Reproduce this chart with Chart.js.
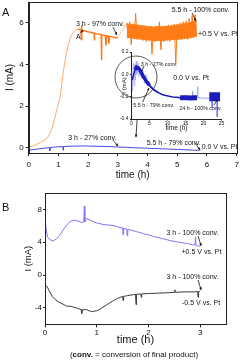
<!DOCTYPE html>
<html>
<head>
<meta charset="utf-8">
<script src="https://cdn.jsdelivr.net/npm/chart.js@4.4.1/dist/chart.umd.min.js"></script>
<style>
  html, body { margin: 0; padding: 0; background: #fff; }
  #wrap { position: relative; width: 240px; height: 362px; overflow: hidden; }
  canvas { position: absolute; }
</style>
</head>
<body>
<div id="wrap">
  <canvas id="chartA" width="240" height="185" style="left:0;top:0;width:240px;height:185px"></canvas>
  <canvas id="chartInset" width="120" height="100" style="left:110px;top:40px;width:120px;height:100px"></canvas>
  <canvas id="chartB" width="240" height="177" style="left:0;top:185px;width:240px;height:177px"></canvas>
</div>
<script>
// ---- panel A, +0.5 V (orange) ----
var riseT = [0, 0.2, 0.4, 0.55, 0.65, 0.72, 0.8, 0.88, 0.95, 1.0, 1.05, 1.1, 1.17, 1.25, 1.33, 1.42, 1.5, 1.58, 1.65];
var riseI = [0.03, 0.12, 0.25, 0.38, 0.52, 0.7, 1.0, 1.45, 1.85, 2.15, 2.4, 2.9, 3.7, 4.4, 4.95, 5.35, 5.55, 5.65, 5.7];
var plateauT = [1.65, 1.72, 1.76, 1.77, 1.78, 1.79, 1.85, 1.92, 2.0, 2.08, 2.15, 2.2, 2.21, 2.22, 2.3, 2.38, 2.44, 2.45, 2.46, 2.52, 2.58, 2.6, 2.62, 2.68, 2.7, 2.72, 2.8, 2.88, 2.95, 3.0];
var plateauI = [5.7, 5.68, 5.66, 5.2, 5.9, 5.64, 5.62, 5.6, 5.57, 5.55, 5.52, 5.5, 5.15, 5.5, 5.47, 5.45, 5.43, 4.2, 5.42, 5.4, 5.38, 4.9, 5.37, 5.36, 5.0, 5.35, 5.33, 5.3, 5.28, 5.3];
var gapT = [3.0, 3.3];
var gapI = [5.3, 5.95];
var bandT = [3.30, 3.35, 3.40, 3.45, 3.50, 3.55, 3.60, 3.65, 3.70, 3.75, 3.80, 3.85, 3.90, 3.95, 4.00, 4.05,
             4.10, 4.15, 4.20, 4.25, 4.30, 4.35, 4.40, 4.45, 4.50, 4.55, 4.60, 4.65, 4.70, 4.75, 4.80, 4.85,
             4.90, 4.95, 5.00, 5.05, 5.10, 5.15, 5.20, 5.25, 5.30, 5.35, 5.40, 5.45, 5.50, 5.55, 5.60, 5.65];
var bandI = [6.00, 5.30, 6.05, 4.95, 5.95, 5.25, 6.45, 5.20, 5.90, 5.20, 5.85, 5.15, 5.85, 5.10, 5.80, 5.15,
             5.85, 4.50, 5.80, 5.10, 5.85, 5.15, 6.05, 4.70, 5.80, 5.10, 5.85, 5.15, 5.90, 5.10, 5.90, 5.20,
             5.95, 4.05, 5.95, 5.20, 6.00, 5.20, 6.05, 5.25, 6.10, 5.20, 6.20, 5.25, 6.35, 5.30, 6.40, 5.35];
// upper and lower edge of the dense noise band
var envT = [3.3, 3.6, 3.9, 4.2, 4.5, 4.8, 5.1, 5.4, 5.65];
var envTopI = [5.95, 5.9, 5.85, 5.8, 5.82, 5.85, 5.92, 6.0, 6.1];
var envBotI = [5.3, 5.25, 5.2, 5.15, 5.15, 5.2, 5.22, 5.28, 5.35];

// ---- panel A, 0.0 V (blue) ----
var blueT = [0, 0.3, 0.6, 0.7, 0.71, 0.72, 0.9, 1.15, 1.16, 1.17, 1.5, 1.8, 2.1, 2.4, 2.7, 3.0, 3.3, 3.6, 4.0, 4.5, 5.0, 5.5, 5.75];
var blueI = [-0.12, -0.06, -0.01, 0.01, -0.15, 0.01, 0.04, 0.06, -0.12, 0.06, 0.08, 0.09, 0.08, 0.07, 0.06, 0.04, 0.02, 0.0, -0.02, -0.05, -0.08, -0.11, -0.13];

// ---- inset, 0.0 V over 25 h ----
var insetT = [0, 0.3, 0.6, 1.0, 1.4, 1.8, 2.3, 2.8, 3.3, 3.8, 4.3, 5.0, 5.6, 6.5, 7.5, 8.5, 9.5, 10.5, 11.5, 12.5, 13.5, 14.5, 15.5, 16.5, 17.5, 18.2];
var insetI = [-0.05, -0.04, 0.0, 0.04, 0.065, 0.06, 0.04, 0.01, -0.02, -0.045, -0.07, -0.1, -0.12, -0.145, -0.165, -0.18, -0.19, -0.197, -0.202, -0.206, -0.21, -0.21, -0.21, -0.212, -0.21, -0.21];
var noiseT = [0.1, 0.3, 0.5, 0.7, 0.9, 1.1, 1.3, 1.5, 1.8, 2.1, 2.4, 2.8, 3.2, 3.6, 4.0, 4.5, 5.0];
var noiseI = [0.02, -0.15, 0.1, -0.1, 0.09, -0.05, 0.12, 0.0, 0.1, -0.02, 0.07, -0.04, 0.03, -0.08, 0.0, -0.1, -0.06];
var tailT = [18.2, 21.6];
var tailI = [-0.21, -0.215];
var blockT = [21.6, 24.6];
var blockI = [-0.2, -0.2];
var spikeT = [17.0, 17.0, 17.0, 18.4, 18.4, 18.4, 22.4, 22.4, 22.4, 23.8, 23.8];
var spikeI = [-0.21, -0.15, null, -0.21, -0.11, null, -0.2, -0.3, null, -0.2, -0.38];

// ---- panel B ----
var plusT = [0, 0.005, 0.02, 0.05, 0.1, 0.16, 0.22, 0.28, 0.35, 0.42, 0.48, 0.55, 0.62, 0.68, 0.72, 0.75, 0.76, 0.77, 0.8, 0.9,
             1.0, 1.1, 1.2, 1.32, 1.45, 1.5, 1.51, 1.52, 1.58, 1.59, 1.6, 1.65, 1.77, 1.9, 2.0, 2.1, 2.2, 2.3, 2.42, 2.55,
             2.65, 2.74, 2.85, 2.9, 2.91, 2.92, 2.96, 3.0];
var plusI = [-0.5, 7.0, 5.6, 4.6, 4.3, 4.15, 4.4, 4.8, 5.5, 6.1, 6.5, 6.7, 6.6, 6.5, 6.4, 6.45, 8.4, 6.5, 6.9, 6.6,
             6.35, 6.2, 6.1, 6.05, 5.8, 5.75, 4.9, 5.7, 5.6, 4.8, 5.55, 5.5, 5.3, 5.05, 4.9, 4.7, 4.55, 4.4, 4.2, 4.05,
             3.95, 3.85, 3.7, 3.65, 4.6, 3.65, 3.55, 3.5];
var minusT = [0, 0.04, 0.08, 0.14, 0.2, 0.27, 0.35, 0.42, 0.5, 0.55, 0.6, 0.65, 0.7, 0.71, 0.72, 0.8, 0.85, 0.9, 0.95, 1.0,
              1.05, 1.1, 1.2, 1.3, 1.4, 1.5, 1.51, 1.52, 1.6, 1.7, 1.75, 1.76, 1.77, 1.85, 1.86, 1.87, 2.0, 2.2, 2.4, 2.5,
              2.51, 2.52, 2.7, 2.9, 2.95, 2.96, 2.97, 3.0];
var minusI = [-1.3, -1.4, -1.9, -2.6, -3.0, -3.3, -3.55, -3.8, -3.8, -3.9, -4.0, -4.1, -4.2, -4.7, -4.25, -4.2, -4.35, -4.45, -4.4, -4.35,
              -4.2, -4.0, -3.6, -3.2, -2.85, -2.6, -3.1, -2.6, -2.5, -2.4, -2.35, -3.6, -2.35, -2.3, -2.7, -2.3, -2.25, -2.2, -2.15, -2.1,
              -1.8, -2.1, -2.05, -2.05, -2.0, -2.7, -2.0, -1.95];

// ---- ticks ----
var aTicksX = [0, 1, 2, 3, 4, 5, 6, 7];
var aTicksY = [0, 2, 4, 6];
var insetTicksX = [0, 5, 10, 15, 20, 25];
var insetTicksY = [0.2, 0, -0.2, -0.4];
var bTicksX = [0, 1, 2, 3];
var bTicksY = [-4, 0, 4, 8];

var FONT = "'Liberation Sans', Arial, sans-serif";
Chart.defaults.font.family = FONT;
Chart.defaults.color = '#111';

function pts(ts, vs) {
  return ts.map(function (t, i) { return { x: t, y: vs[i] }; });
}

function line(data, color, width, extra) {
  var ds = { data: data, borderColor: color, borderWidth: width, pointRadius: 0, tension: 0, fill: false, spanGaps: false };
  if (extra) Object.keys(extra).forEach(function (k) { ds[k] = extra[k]; });
  return ds;
}

function scale(o) {
  return {
    type: 'linear', min: o.min, max: o.max,
    afterBuildTicks: function (s) { s.ticks = o.ticks.map(function (v) { return { value: v }; }); },
    afterFit: function (s) {
      if (o.width != null) s.width = o.width;
      if (o.height != null) s.height = o.height;
      s.paddingTop = 0; s.paddingBottom = 0; s.paddingLeft = 0; s.paddingRight = 0;
    },
    grid: { display: true, drawOnChartArea: false, drawTicks: true, tickLength: o.tickLen, color: '#222', lineWidth: 1 },
    border: { display: true, color: '#222', width: 1 },
    ticks: {
      padding: o.pad, font: { size: o.font }, color: '#111', maxRotation: 0, autoSkip: false,
      callback: o.fmt || function (v) { return v; }
    },
    title: o.title ? { display: true, text: o.title, font: { size: o.titleSize }, color: '#111', padding: o.titlePad } : { display: false }
  };
}

function drawArrow(ctx, x1, y1, x2, y2, head) {
  var ang = Math.atan2(y2 - y1, x2 - x1);
  ctx.beginPath(); ctx.moveTo(x1, y1); ctx.lineTo(x2, y2); ctx.stroke();
  ctx.beginPath();
  ctx.moveTo(x2, y2);
  ctx.lineTo(x2 - head * Math.cos(ang - 0.45), y2 - head * Math.sin(ang - 0.45));
  ctx.lineTo(x2 - head * Math.cos(ang + 0.45), y2 - head * Math.sin(ang + 0.45));
  ctx.closePath(); ctx.fill();
}

// frame, circle, arrows and annotations (anchored in data units)
var notesPlugin = {
  id: 'notes',
  afterDatasetsDraw: function (chart, args, opts) {
    var ctx = chart.ctx, xs = chart.scales.x, ys = chart.scales.y, ca = chart.chartArea;
    ctx.save();
    if (opts.frame) {
      ctx.strokeStyle = '#222'; ctx.lineWidth = 1;
      ctx.strokeRect(Math.round(ca.left) + 0.5, Math.round(ca.top) + 0.5,
        Math.round(ca.right - ca.left), Math.round(ca.bottom - ca.top));
    }
    (opts.circles || []).forEach(function (c) {
      ctx.beginPath();
      ctx.arc(xs.getPixelForValue(c.x), ys.getPixelForValue(c.y), c.r, 0, Math.PI * 2);
      ctx.strokeStyle = '#333'; ctx.lineWidth = 0.8; ctx.stroke();
    });
    ctx.strokeStyle = '#111'; ctx.fillStyle = '#111'; ctx.lineWidth = 0.8;
    (opts.arrows || []).forEach(function (a) {
      drawArrow(ctx, xs.getPixelForValue(a[0]), ys.getPixelForValue(a[1]),
        xs.getPixelForValue(a[2]), ys.getPixelForValue(a[3]), a[4] || 3);
    });
    ctx.textBaseline = 'middle'; ctx.textAlign = 'left';
    (opts.texts || []).forEach(function (t) {
      ctx.font = (t.bold ? 'bold ' : '') + t.size + 'px ' + FONT;
      ctx.fillText(t.s, xs.getPixelForValue(t.x), ys.getPixelForValue(t.y));
    });
    (opts.labels || []).forEach(function (t) {
      ctx.font = (t.bold ? 'bold ' : '') + t.size + 'px ' + FONT;
      ctx.fillText(t.s, t.px, t.py);
    });
    if (opts.footnote) {
      var f = opts.footnote, w = 0;
      f.parts.forEach(function (p) {
        ctx.font = (p.bold ? 'bold ' : '') + f.size + 'px ' + FONT;
        w += ctx.measureText(p.s).width;
      });
      var x = f.cx - w / 2;
      f.parts.forEach(function (p) {
        ctx.font = (p.bold ? 'bold ' : '') + f.size + 'px ' + FONT;
        ctx.fillText(p.s, x, f.cy);
        x += ctx.measureText(p.s).width;
      });
    }
    ctx.restore();
  }
};

var common = {
  responsive: false, animation: false, devicePixelRatio: 1,
  events: []
};

function config(datasets, scales, padding, notes) {
  var c = { type: 'line', data: { datasets: datasets }, plugins: [notesPlugin] };
  c.options = Object.assign({}, common, {
    layout: { padding: padding },
    scales: scales,
    plugins: { legend: { display: false }, tooltip: { enabled: false }, notes: notes }
  });
  return c;
}

// ---- panel A ----
new Chart(document.getElementById('chartA'), config([
  line(pts(blueT, blueI), '#4a4ae6', 1),
  line(pts(bandT, bandI), '#ff7a14', 1),
  line(pts(envT, envTopI), '#ff8a2a', 1, { fill: '+1', backgroundColor: '#ff7f1c' }),
  line(pts(envT, envBotI), '#ff8a2a', 1),
  line(pts(plateauT, plateauI), '#ff7a1e', 1.5),
  line(pts(gapT, gapI), '#ffb27e', 0.8),
  line(pts(riseT, riseI), '#ffab74', 1)
], {
  x: scale({ min: 0, max: 7, ticks: aTicksX, font: 8, tickLen: 3, pad: 4, height: 32,
             title: 'time (h)', titleSize: 10, titlePad: { top: 0, bottom: 4 } }),
  y: scale({ min: -0.25, max: 7, ticks: aTicksY, font: 8, tickLen: 3, pad: 2, width: 28.7,
             title: 'I (mA)', titleSize: 10, titlePad: { top: 4, bottom: 0 } })
}, { left: 0, top: 2, right: 3.3, bottom: 0 }, {
  frame: true,
  arrows: [
    [2.84, 5.79, 2.97, 5.41], [1.73, 5.5, 1.83, 5.65, 2.5], [5.5, 6.47, 5.63, 6.07],
    [2.84, 0.37, 3.01, 0.08], [5.6, 0.23, 5.77, -0.11], [3.65, 1.38, 3.61, 0.51]
  ],
  texts: [
    { s: '3 h - 97% conv.', x: 1.59, y: 5.94, size: 7 },
    { s: 'A', x: 1.59, y: 5.31, size: 7 },
    { s: '5.5 h - 100% conv.', x: 4.81, y: 6.61, size: 7 },
    { s: '+0.5 V vs. Pt', x: 5.7, y: 5.46, size: 7 },
    { s: '3 h - 27% conv.', x: 1.33, y: 0.45, size: 7 },
    { s: '5.5 h - 79% conv.', x: 3.97, y: 0.24, size: 7 },
    { s: '0.0 V vs. Pt', x: 5.82, y: 0.02, size: 7 }
  ],
  labels: [{ s: 'A', px: 2, py: 13, size: 11 }]
}));

// ---- inset ----
new Chart(document.getElementById('chartInset'), config([
  line(pts(insetT, insetI), '#1c1cbc', 1.5, {
    segment: {
      borderWidth: function (c) {
        var x = c.p0.parsed.x;
        if (x >= 13) return 5;
        if (x >= 1 && x < 4.5) return 3.5;
        if (x >= 4.5 && x < 7) return 2;
        return 1.5;
      }
    }
  }),
  line(pts(blockT, blockI), '#1c1cbc', 9, { borderCapStyle: 'butt' }),
  line(pts(spikeT, spikeI), '#6a6ae8', 0.8),
  line(pts(tailT, tailI), '#9a9af5', 1),
  line(pts(noiseT, noiseI), '#a9a9ff', 0.8)
], {
  x: scale({ min: 0, max: 25, ticks: insetTicksX, font: 5, tickLen: 1.5, pad: 0.5, height: 21,
             title: 'time (h)', titleSize: 6.5, titlePad: { top: 0, bottom: 7.8 } }),
  y: scale({ min: -0.4, max: 0.2, ticks: insetTicksY, font: 5, tickLen: 1.5, pad: 1.5, width: 21.5,
             fmt: function (v) { return v.toFixed(1); },
             title: 'I (mA)', titleSize: 6, titlePad: { top: 10.5, bottom: 0 } })
}, { left: 0, top: 12, right: 8.5, bottom: 0 }, {
  circles: [{ x: 1.25, y: -0.024, r: 21 }],
  arrows: [
    [3.47, 0.074, 2.78, 0.025, 2], [3.11, -0.248, 4.86, -0.123, 2.5], [22.9, -0.275, 23.75, -0.23, 2]
  ],
  texts: [
    { s: '3 h - 27% conv.', x: 2.56, y: 0.092, size: 5.3 },
    { s: '0.0 V vs. Pt', x: 11.6, y: -0.036, size: 7 },
    { s: '5.5 h - 79% conv.', x: 0.5, y: -0.275, size: 5.3 },
    { s: '24 h - 100% conv.', x: 13.28, y: -0.304, size: 5.3 }
  ]
}));

// ---- panel B ----
new Chart(document.getElementById('chartB'), config([
  line(pts(plusT, plusI), '#8076f3', 1),
  line(pts(minusT, minusI), '#3c3c3c', 1)
], {
  x: scale({ min: 0, max: 3.5, ticks: bTicksX, font: 8, tickLen: 3, pad: 1, height: 37.7,
             title: 'time (h)', titleSize: 11, titlePad: { top: 0, bottom: 15.4 } }),
  y: scale({ min: -6, max: 10, ticks: bTicksY, font: 8, tickLen: 2, pad: 1, width: 45,
             title: 'I (mA)', titleSize: 9.5, titlePad: { top: 22.3, bottom: 0 } })
}, { left: 0, top: 8, right: 14, bottom: 0 }, {
  frame: true,
  arrows: [[2.96, 4.76, 3.02, 3.54], [2.96, -0.61, 3.02, -1.83]],
  texts: [
    { s: '3 h - 100% conv.', x: 2.35, y: 5.16, size: 7 },
    { s: '+0.5 V vs. Pt', x: 2.64, y: 2.77, size: 7 },
    { s: '3 h - 100% conv.', x: 2.35, y: -0.21, size: 7 },
    { s: '-0.5 V vs. Pt', x: 2.65, y: -3.38, size: 7 }
  ],
  labels: [{ s: 'B', px: 2, py: 23, size: 11 }],
  footnote: { cx: 134, cy: 170, size: 8, parts: [{ s: '(' }, { s: 'conv.', bold: true }, { s: ' = conversion of final product)' }] }
}));
</script>
</body>
</html>
